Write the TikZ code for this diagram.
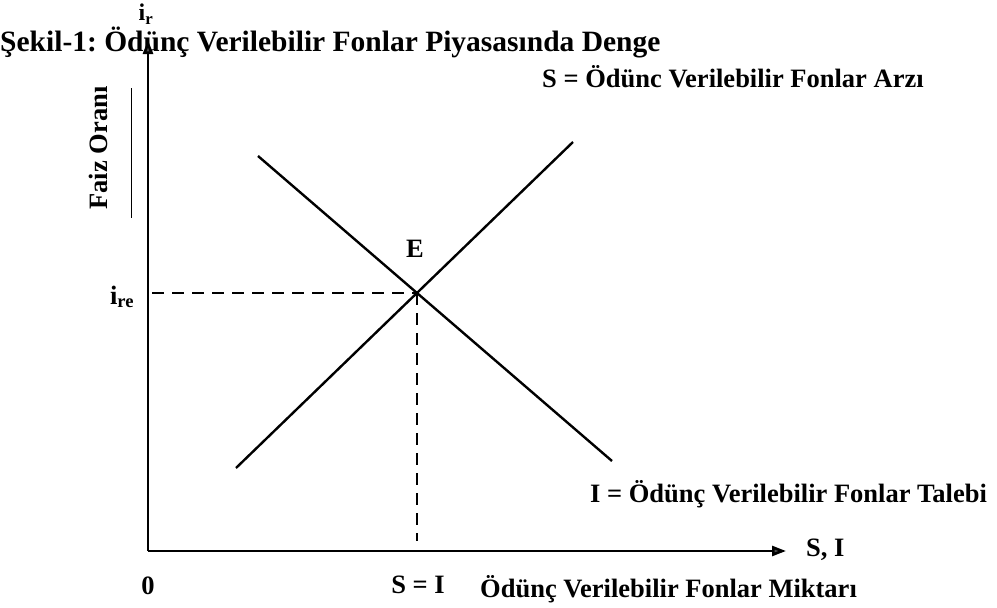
\documentclass[tikz,border=0pt]{standalone}
\usepackage{fontspec}
\setmainfont{Liberation Serif}
\usetikzlibrary{arrows.meta}
\begin{document}
\frenchspacing
\begin{tikzpicture}[x=1pt,y=-1pt,
  lbl/.style={font=\bfseries\fontsize{26.5}{30}\selectfont, inner sep=0pt},
  axis/.style={line width=2.6pt, -{Triangle[length=14pt,width=10pt,fill=black!70]}},
  curve/.style={line width=2.4pt},
  guide/.style={line width=2.4pt, dash pattern=on 12pt off 8pt}]
\useasboundingbox (0,0) rectangle (997,608);
% title
\node[lbl, font=\bfseries\fontsize{29.5}{33}\selectfont, anchor=base west] (title) at (0,51) {Şekil-1: Ödünç Verilebilir Fonlar Piyasasında Denge};
% axes
\coordinate (O) at (148,551);
\coordinate (ytip) at (148,40);
\coordinate (xtip) at (786,551);
\draw[axis] (O) -- (ytip);
\draw[axis] (O) -- (xtip);
\node[lbl, font=\bfseries\fontsize{24}{26}\selectfont] (ir) at (146,14) {i\textsubscript{r}};
\node[lbl] (xlab) [anchor=west] at (806,550) {S, I};
\node[lbl] (zero) at (148,586) {0};
\node[lbl, rotate=90] (yname) at (98,148) {Faiz Oranı};
\coordinate (ul1) at (131,88);
\coordinate (ul2) at (131,218);
\draw[line width=0.8pt] (ul1) -- (ul2);
% supply and demand
\coordinate (s1) at (236,468);
\coordinate (s2) at (573,142);
\coordinate (d1) at (258,156);
\coordinate (d2) at (612,461);
\draw[curve] (s1) -- (s2);
\draw[curve] (d1) -- (d2);
\node[lbl, anchor=west] (sname) at (542,77) {S = Ödünc Verilebilir Fonlar Arzı};
\node[lbl, anchor=west] (dname) at (590,494) {I = Ödünç Verilebilir Fonlar Talebi};
% equilibrium
\coordinate (E) at (417,293);
\coordinate (ya) at (152,293);
\coordinate (xa) at (417,541);
\node[lbl] (elab) at (415,249) {E};
\draw[guide] (ya) -- (E);
\draw[guide] (E) -- (xa);
\node[lbl] (ire) at (122,297) {i\textsubscript{re}};
\node[lbl] (eqq) at (418,585) {S = I};
\node[lbl, anchor=west] (qname) at (480,589) {Ödünç Verilebilir Fonlar Miktarı};
\end{tikzpicture}
\end{document}
